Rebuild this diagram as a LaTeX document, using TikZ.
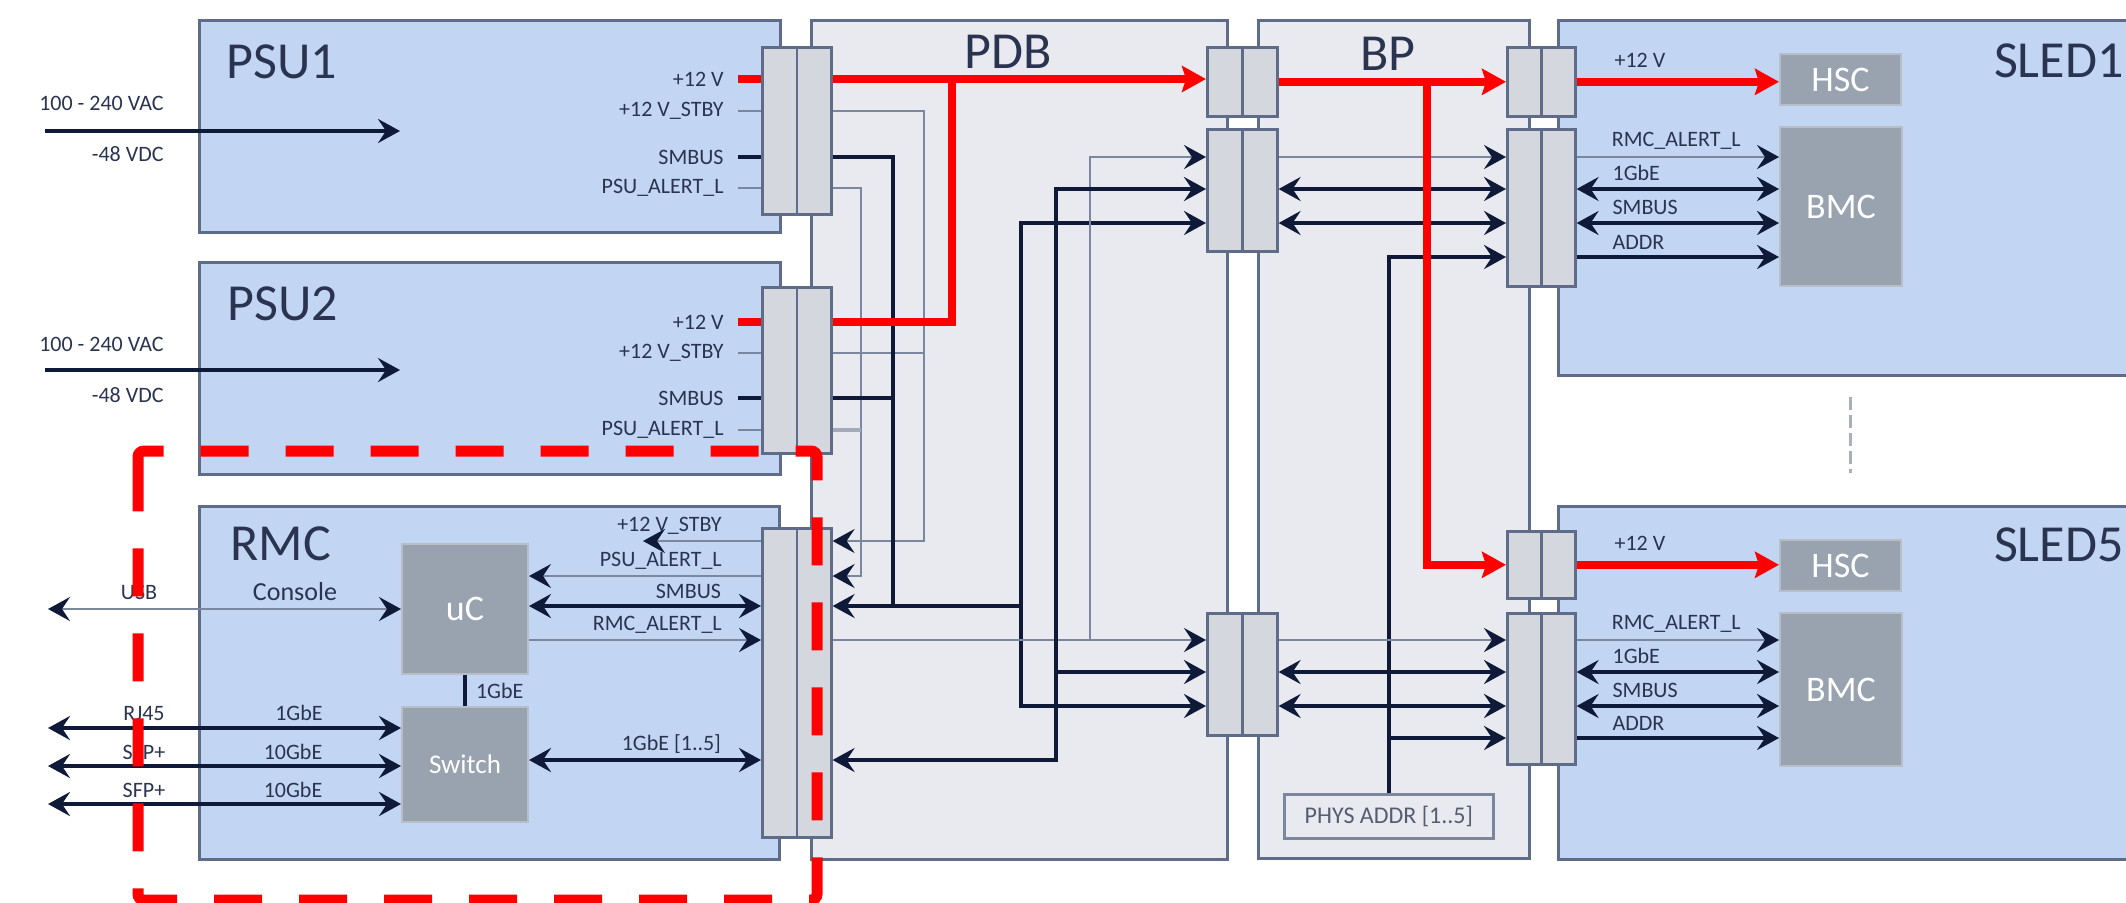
\documentclass[tikz,border=0pt]{standalone}
\usepackage{fontspec}
\setmainfont{Carlito}
\usepackage{tikz}
\usetikzlibrary{arrows.meta, positioning}

\definecolor{boardc}{HTML}{C2D5F3}
\definecolor{planec}{HTML}{E8EAEF}
\definecolor{connc}{HTML}{D4D7DD}
\definecolor{edgec}{HTML}{5E6C8A}
\definecolor{chipc}{HTML}{99A2AF}
\definecolor{navyc}{HTML}{0F1A38}
\definecolor{sigc}{HTML}{7B879E}
\definecolor{textc}{HTML}{2A3450}
\definecolor{pwrc}{HTML}{FF0000}
\definecolor{sepc}{HTML}{A9B0BB}

\begin{document}
\begin{tikzpicture}[x=0.5pt, y=-0.5pt,
    wh/.style 2 args={minimum width=#1*0.5pt, minimum height=#2*0.5pt},
    board/.style={draw=edgec, fill=boardc, line width=1.5pt, anchor=north west, inner sep=0pt},
    plane/.style={board, fill=planec},
    chip/.style={draw=chipc!70!white, fill=chipc, line width=1pt, anchor=north west, inner sep=0pt, text=white},
    conn/.style={draw=edgec, fill=connc, line width=1.3pt, anchor=north west, inner sep=0pt,
      path picture={\draw[edgec, line width=1.3pt] (path picture bounding box.north) -- (path picture bounding box.south);}},
    boxtitle/.style={font=\fontsize{26}{30}\selectfont, text=textc, inner sep=0pt},
    lbl/.style={font=\fontsize{11}{13}\selectfont, text=textc, inner sep=1pt},
    pinlbl/.style={lbl, anchor=east, inner xsep=7pt},
    sledlbl/.style={lbl, at start, anchor=south west, xshift=16pt, yshift=2pt},
    rmclbl/.style={lbl, anchor=south east, xshift=-18pt, yshift=1.5pt},
    sig/.style={draw=sigc, line width=1.3pt},
    bus/.style={draw=navyc, line width=2pt},
    pwr/.style={draw=pwrc, line width=4pt},
    feed/.style={pwr, -{Stealth[length=12pt, width=13pt, inset=2pt]}},
    >={Stealth[length=11pt, width=12pt, inset=4pt, color=navyc]}]

    \useasboundingbox (0,0) rectangle (2126,902);
    \clip (0,0) rectangle (2126,902);

    % boards
    \node[board, wh={581}{212}] (psu1) at (198,19) {};
    \node[board, wh={581}{212}] (psu2) at (198,261) {};
    \node[board, wh={580}{353}] (rmc) at (198,505) {};
    \node[plane, wh={416}{839}] (pdb) at (810,19) {};
    \node[plane, wh={271}{838}] (bp) at (1257,19) {};
    \node[board, wh={600}{355}] (sled1) at (1557,19) {};
    \node[board, wh={600}{353}] (sled5) at (1557,505) {};

    \node[boxtitle, anchor=base west] (tpsu1) at (226,78) {PSU1};
    \node[boxtitle, anchor=base west] (tpsu2) at (227,320) {PSU2};
    \node[boxtitle, anchor=base west] (trmc) at (230,560) {RMC};
    \node[boxtitle, anchor=base] (tpdb) at (1008,68) {PDB};
    \node[boxtitle, anchor=base] (tbp) at (1388,70) {BP};
    \node[boxtitle, anchor=base east] (tsled1) at (2124,77) {SLED1};
    \node[boxtitle, anchor=base east] (tsled5) at (2124,561) {SLED5};

    % chips
    \node[chip, wh={126}{130}, font=\fontsize{18}{20}\selectfont] (uc) at (401,543) {uC};
    \node[chip, wh={126}{115}, font=\fontsize{13.5}{16}\selectfont] (sw) at (401,706) {Switch};
    \node[chip, wh={121}{51}, font=\fontsize{18}{20}\selectfont] (hsc1) at (1779,53) {HSC};
    \node[chip, wh={122}{159}, font=\fontsize{18}{20}\selectfont] (bmc1) at (1779,126) {BMC};
    \node[chip, wh={121}{51}, font=\fontsize{18}{20}\selectfont] (hsc5) at (1779,539) {HSC};
    \node[chip, wh={122}{153}, font=\fontsize{18}{20}\selectfont] (bmc5) at (1779,612) {BMC};
    \node[draw=sigc, fill=planec, line width=1.3pt, anchor=north west, inner sep=0pt, wh={209}{44},
          font=\fontsize{12}{14}\selectfont, text=textc!80!white] (phys) at (1283,793) {PHYS ADDR [1..5]};

    % connectors
    \node[conn, wh={69}{167}] (cP1) at (761,46) {};
    \node[conn, wh={69}{166}] (cP2) at (761,286) {};
    \node[conn, wh={69}{309}] (cR) at (761,527) {};
    \node[conn, wh={70}{69}] (cB12) at (1206,46) {};
    \node[conn, wh={70}{122}] (cB1) at (1206,128) {};
    \node[conn, wh={70}{122}] (cB2) at (1206,612) {};
    \node[conn, wh={68}{69}] (cS1p) at (1506,46) {};
    \node[conn, wh={68}{157}] (cS1s) at (1506,128) {};
    \node[conn, wh={68}{67}] (cS5p) at (1506,530) {};
    \node[conn, wh={68}{151}] (cS5s) at (1506,612) {};

    % levels and junctions
    \coordinate (lAlrt1) at (0,157);
    \coordinate (lGbe1) at (0,189);
    \coordinate (lSmb1) at (0,223);
    \coordinate (lAdr1) at (0,257);
    \coordinate (lAlrt5) at (0,640);
    \coordinate (lGbe5) at (0,672);
    \coordinate (lSmb5) at (0,706);
    \coordinate (lAdr5) at (0,738);
    \coordinate (lRj) at (0,728);
    \coordinate (lSfpA) at (0,766);
    \coordinate (lSfpB) at (0,804);
    \coordinate (extL) at (48,0);
    \coordinate (jPwr) at (952,79);
    \coordinate (jStby) at (924,541);
    \coordinate (jAlrt) at (861,576);
    \coordinate (jSmbP) at (893,606);
    \coordinate (jSmbR) at (1021,606);
    \coordinate (jSmb5) at (1021,706);
    \coordinate (jAlrtR) at (1090,640);
    \coordinate (jGbR) at (1056,760);
    \coordinate (jGb1) at (1056,189);
    \coordinate (jGb5) at (1056,672);
    \coordinate (jBp) at (1427,80.5);
    \coordinate (stbyEnd) at (643,541);

    % PSU inputs
    \coordinate (ac1) at (45,131);
    \coordinate (ac1e) at (400,131);
    \coordinate (ac2) at (45,370);
    \coordinate (ac2e) at (400,370);
    \draw[bus,->] (ac1) -- (ac1e);
    \draw[bus,->] (ac2) -- (ac2e);
    \node[lbl, anchor=east] (in1a) at (166,103) {100 - 240 VAC};
    \node[lbl, anchor=east] (in1b) at (166,154) {-48 VDC};
    \node[lbl, anchor=east] (in2a) at (166,344) {100 - 240 VAC};
    \node[lbl, anchor=east] (in2b) at (166,395) {-48 VDC};

    % PSU pins
    \node[pinlbl] (p1v) at (738,79) {+12 V};
    \node[pinlbl] (p1s) at (738,111) {+12 V\_STBY};
    \node[pinlbl] (p1b) at (738,157) {SMBUS};
    \node[pinlbl] (p1a) at (738,188) {PSU\_ALERT\_L};
    \node[pinlbl] (p2v) at (738,322) {+12 V};
    \node[pinlbl] (p2s) at (738,353) {+12 V\_STBY};
    \node[pinlbl] (p2b) at (738,398) {SMBUS};
    \node[pinlbl] (p2a) at (738,430) {PSU\_ALERT\_L};
    \draw[pwr] (p1v.east) -- (cP1.west |- p1v.east);
    \draw[sig] (p1s.east) -- (cP1.west |- p1s.east);
    \draw[bus] (p1b.east) -- (cP1.west |- p1b.east);
    \draw[sig] (p1a.east) -- (cP1.west |- p1a.east);
    \draw[pwr] (p2v.east) -- (cP2.west |- p2v.east);
    \draw[sig] (p2s.east) -- (cP2.west |- p2s.east);
    \draw[bus] (p2b.east) -- (cP2.west |- p2b.east);
    \draw[sig] (p2a.east) -- (cP2.west |- p2a.east);

    % PDB wiring
    \draw[sig,->] (cP1.east |- p1s.east) -| (jStby) -- (cR.east |- jStby);
    \draw[sig] (cP2.east |- p2s.east) -- (jStby |- p2s.east);
    \draw[sig,->] (cP1.east |- p1a.east) -| (jAlrt) -- (cR.east |- jAlrt);
    \draw[sigc!70!white, line width=2pt] (cP2.east |- p2a.east) -- (jAlrt |- p2a.east);
    \draw[bus] (cP1.east |- p1b.east) -| (jSmbP);
    \draw[bus] (cP2.east |- p2b.east) -- (jSmbP |- p2b.east);
    \draw[bus,->] (jSmbR) -- (cR.east |- jSmbR);
    \draw[bus,<->] (cB1.west |- lSmb1) -| (jSmb5) -- (cB2.west |- jSmb5);
    \draw[sig,->] (cR.east |- jAlrtR) -- (cB2.west |- jAlrtR);
    \draw[sig,->] (jAlrtR) |- (cB1.west |- lAlrt1);
    \draw[bus,<->] (cR.east |- jGbR) -| (jGb1) -- (cB1.west |- jGb1);
    \draw[bus,->] (jGb5) -- (cB2.west |- jGb5);
    \draw[feed] (cP1.east |- p1v.east) -- (cB12.west |- p1v.east);
    \draw[pwr] (cP2.east |- p2v.east) -| (jPwr);

    % BP wiring
    \draw[sig,->] (cB1.east |- lAlrt1) -- (cS1s.west |- lAlrt1);
    \draw[bus,<->] (cB1.east |- lGbe1) -- (cS1s.west |- lGbe1);
    \draw[bus,<->] (cB1.east |- lSmb1) -- (cS1s.west |- lSmb1);
    \draw[bus,->] (phys.north) |- (cS1s.west |- lAdr1);
    \draw[bus,->] (phys.north |- lAdr5) -- (cS5s.west |- lAdr5);
    \draw[sig,->] (cB2.east |- lAlrt5) -- (cS5s.west |- lAlrt5);
    \draw[bus,<->] (cB2.east |- lGbe5) -- (cS5s.west |- lGbe5);
    \draw[bus,<->] (cB2.east |- lSmb5) -- (cS5s.west |- lSmb5);
    \draw[feed] (cB12.east) -- (cS1p.west);
    \draw[feed] (jBp) |- (cS5p.west);

    % sleds
    \draw[feed] (cS1p.east) -- node[sledlbl, yshift=2pt] (s1v) {+12 V} (cS1p.east -| hsc1.west);
    \draw[sig,->] (cS1s.east |- lAlrt1) -- node[sledlbl] (s1a) {RMC\_ALERT\_L} (bmc1.west |- lAlrt1);
    \draw[bus,<->] (cS1s.east |- lGbe1) -- node[sledlbl] (s1g) {1GbE} (bmc1.west |- lGbe1);
    \draw[bus,<->] (cS1s.east |- lSmb1) -- node[sledlbl] (s1b) {SMBUS} (bmc1.west |- lSmb1);
    \draw[bus,->] (cS1s.east |- lAdr1) -- node[sledlbl] (s1d) {ADDR} (bmc1.west |- lAdr1);
    \draw[feed] (cS5p.east) -- node[sledlbl, yshift=2pt] (s5v) {+12 V} (cS5p.east -| hsc5.west);
    \draw[sig,->] (cS5s.east |- lAlrt5) -- node[sledlbl] (s5a) {RMC\_ALERT\_L} (bmc5.west |- lAlrt5);
    \draw[bus,<->] (cS5s.east |- lGbe5) -- node[sledlbl] (s5g) {1GbE} (bmc5.west |- lGbe5);
    \draw[bus,<->] (cS5s.east |- lSmb5) -- node[sledlbl] (s5b) {SMBUS} (bmc5.west |- lSmb5);
    \draw[bus,->] (cS5s.east |- lAdr5) -- node[sledlbl] (s5d) {ADDR} (bmc5.west |- lAdr5);
    \coordinate (dotsT) at (1850,397);
    \coordinate (dotsB) at (1850,473);
    \draw[sepc, line width=1.5pt, dash pattern=on 6.5pt off 2.5pt] (dotsT) -- (dotsB);

    % RMC
    \draw[sig,->] (cR.west |- jStby) -- node[rmclbl, at start] (r1) {+12 V\_STBY} (stbyEnd);
    \draw[sig,->] (cR.west |- jAlrt) -- node[rmclbl, at start] (r2) {PSU\_ALERT\_L} (uc.east |- jAlrt);
    \draw[bus,<->] (cR.west |- jSmbR) -- node[rmclbl, at start] (r3) {SMBUS} (uc.east |- jSmbR);
    \draw[sig,->] (uc.east |- jAlrtR) -- node[rmclbl, at end] (r4) {RMC\_ALERT\_L} (cR.west |- jAlrtR);
    \draw[bus,<->] (sw.east |- jGbR) -- node[rmclbl, at end] (r5) {1GbE [1..5]} (cR.west |- jGbR);
    \draw[bus] (uc.south) -- node[lbl, right, xshift=3.5pt] (r6) {1GbE} (sw.north);
    \draw[sig,<->] (uc.west -| extL) -- (uc.west);
    \node[lbl] (usb) at (139,592) {USB};
    \node[lbl, font=\fontsize{13}{15}\selectfont] (console) at (295,592) {Console};
    \draw[bus,<->] (extL |- lRj) -- (sw.west |- lRj);
    \draw[bus,<->] (extL |- lSfpA) -- (sw.west |- lSfpA);
    \draw[bus,<->] (extL |- lSfpB) -- (sw.west |- lSfpB);
    \node[lbl] (rj) at (144,713) {RJ45};
    \node[lbl] (rjs) at (299,713) {1GbE};
    \node[lbl] (sfa) at (144,752) {SFP+};
    \node[lbl] (sfas) at (293,752) {10GbE};
    \node[lbl] (sfb) at (144,790) {SFP+};
    \node[lbl] (sfbs) at (293,790) {10GbE};

    % red domain outline
    \draw[pwrc, line width=5.5pt, dash pattern=on 24pt off 18.5pt, rounded corners=3pt]
        (138,482) -- (138,451) -- (817,451) -- (817,900) -- (138,900) -- cycle;
\end{tikzpicture}
\end{document}
